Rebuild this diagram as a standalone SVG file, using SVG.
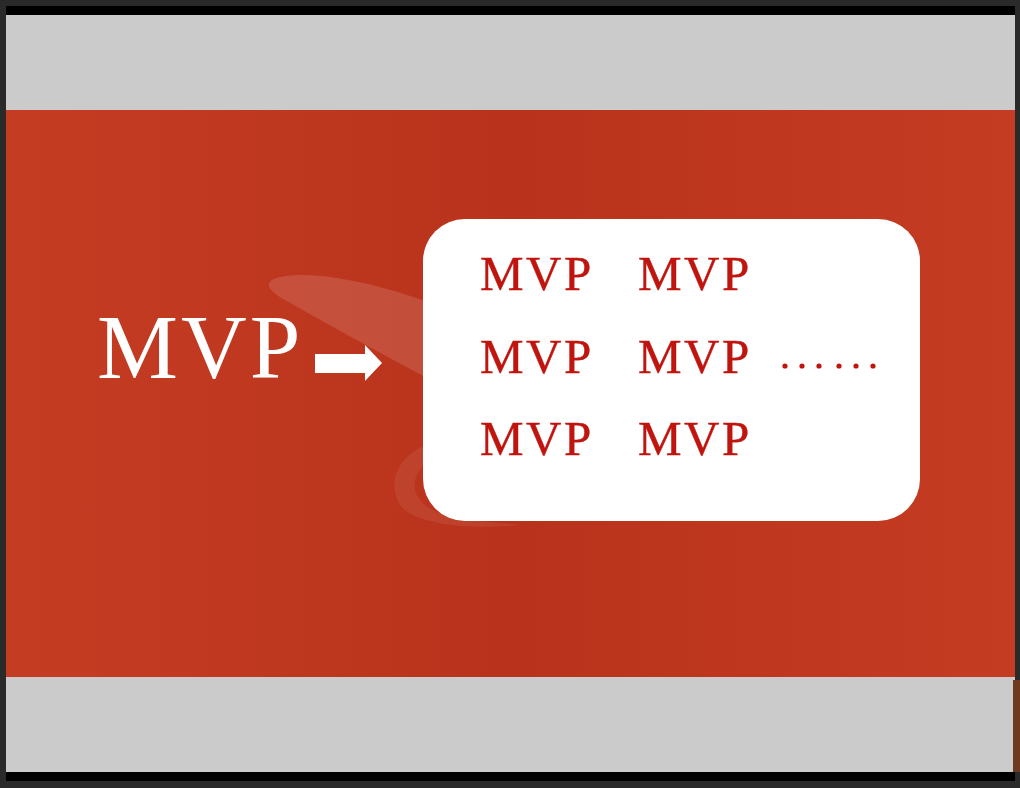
<svg xmlns="http://www.w3.org/2000/svg" width="1020" height="788" viewBox="0 0 1020 788">
<defs>
<linearGradient id="red" x1="0" y1="0" x2="1" y2="0">
<stop offset="0" stop-color="#c43d23"/>
<stop offset="0.5" stop-color="#b9321b"/>
<stop offset="1" stop-color="#c43c22"/>
</linearGradient>
<style>
.small{font-family:"Liberation Serif","Times New Roman",serif;font-size:49px;fill:#c0150f;letter-spacing:2.5px;stroke:#c0150f;stroke-width:0.4px}
.big{font-family:"Liberation Serif","Times New Roman",serif;font-size:91px;fill:#ffffff;letter-spacing:3px}
</style>
</defs>
<rect x="0" y="0" width="1020" height="788" fill="#2a2a2a"/>
<rect x="6" y="6" width="1009" height="775" fill="#000000"/>
<rect x="6" y="15" width="1009" height="757" fill="#cbcbcb"/>
<rect x="6" y="110" width="1009" height="567" fill="url(#red)"/>
<rect x="1013" y="680" width="7" height="92" fill="#6b3a20"/>
<g id="swoosh" fill="#ffffff">
<path d="M272,280 C300,265 400,285 470,320 L470,400 C410,370 320,320 285,300 C270,292 265,284 272,280 Z" opacity="0.13"/>
<path d="M440,440 C400,450 385,480 400,505 C415,525 470,530 520,525 L470,520 C420,515 405,490 420,470 C430,455 440,450 440,440 Z" opacity="0.07"/>
</g>
<g id="source">
<text class="big" x="97" y="378">MVP</text>
</g>
<g id="connectors">
<path d="M315,354 H365 V345 L382,363 L365,381 V373 H315 Z" fill="#ffffff"/>
</g>
<g id="box">
<rect x="423" y="219" width="497" height="302" rx="42" ry="42" fill="#ffffff"/>
<text class="small" x="480" y="290">MVP</text>
<text class="small" x="638" y="290">MVP</text>
<text class="small" x="480" y="373">MVP</text>
<text class="small" x="638" y="373">MVP</text>
<text class="small" x="480" y="455">MVP</text>
<text class="small" x="638" y="455">MVP</text>
<g fill="#c0150f">
<circle cx="785" cy="366" r="2.6"/>
<circle cx="802" cy="366" r="2.6"/>
<circle cx="819" cy="366" r="2.6"/>
<circle cx="839" cy="366" r="2.6"/>
<circle cx="856" cy="366" r="2.6"/>
<circle cx="873" cy="366" r="2.6"/>
</g>
</g>
</svg>
